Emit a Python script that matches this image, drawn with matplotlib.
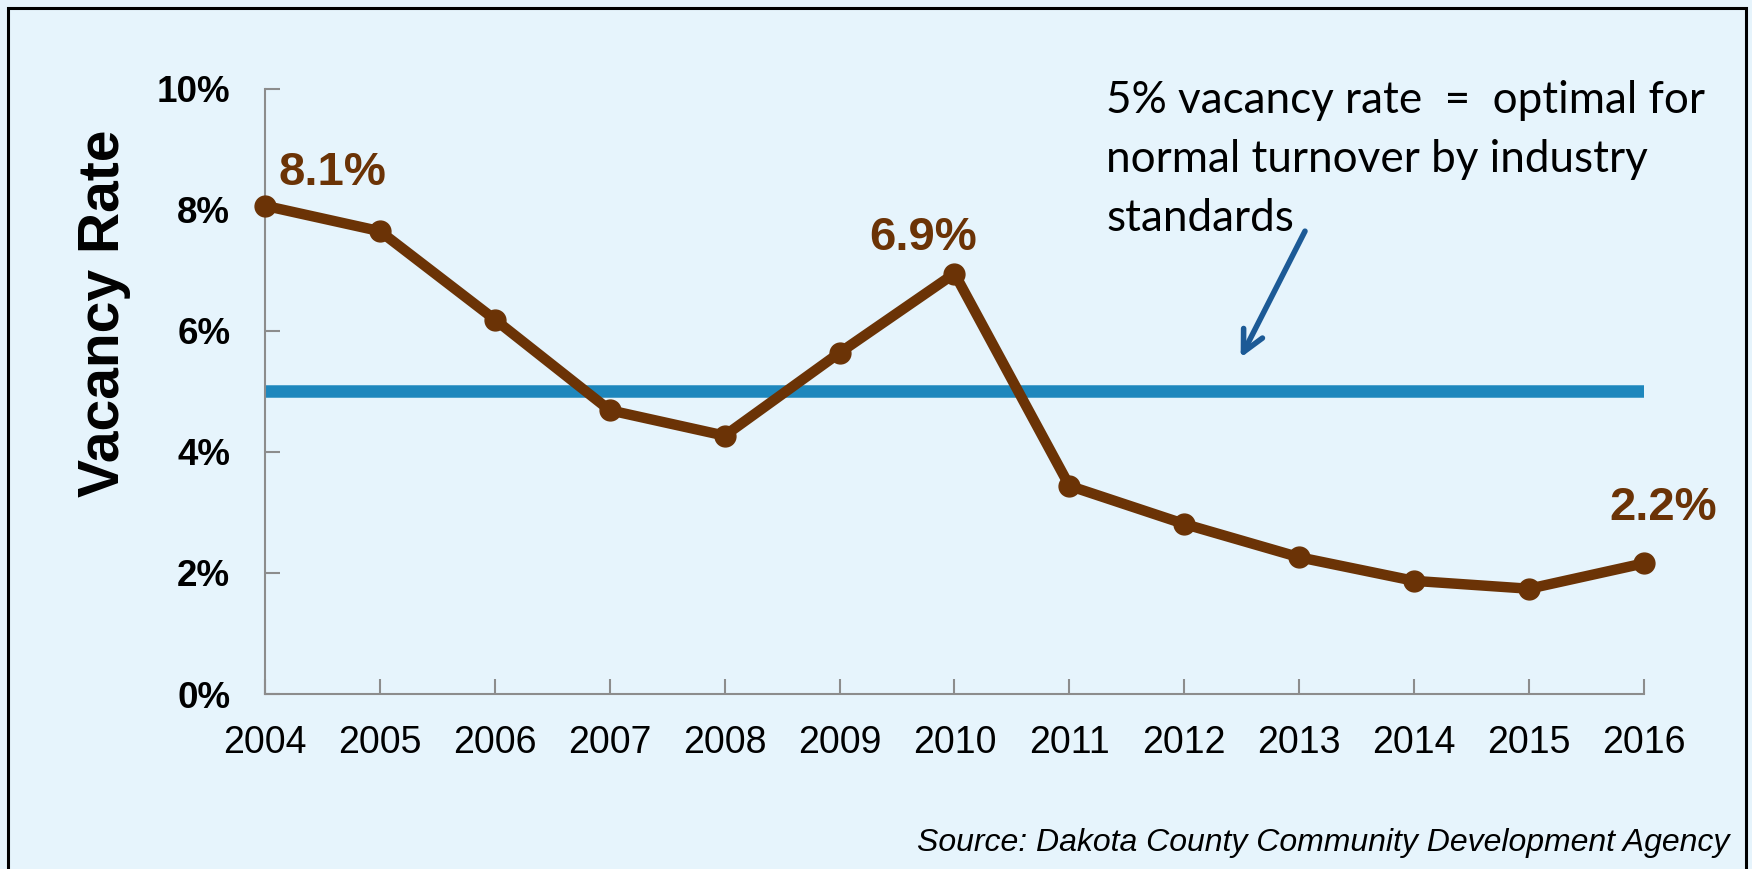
import matplotlib
matplotlib.use("Agg")
import matplotlib.pyplot as plt
from matplotlib.patches import Rectangle

# data
years = [2004, 2005, 2006, 2007, 2008, 2009, 2010, 2011, 2012, 2013, 2014, 2015, 2016]
vacancy = [8.07, 7.65, 6.19, 4.69, 4.27, 5.64, 6.95, 3.44, 2.81, 2.26, 1.87, 1.74, 2.16]
optimal_rate = 5.0
labelled_years = [2004, 2010, 2016]
labelled_text = ["8.1%", "6.9%", "2.2%"]
y_ticks = [0, 2, 4, 6, 8, 10]
y_tick_labels = ["0%", "2%", "4%", "6%", "8%", "10%"]

bg = "#E6F4FC"
brown = "#6B3306"
blue = "#1E87BD"
arrow_blue = "#1C5A96"
axis_grey = "#8C8C8C"

fig = plt.figure(figsize=(17.52, 8.69), dpi=100)
fig.patch.set_facecolor(bg)

# outer black frame (open at the bottom edge)
fig.patches.append(Rectangle((8 / 1752, -0.05), (1746 - 8) / 1752, 1 - 8 / 869 + 0.05,
                             transform=fig.transFigure, fill=False,
                             edgecolor="black", linewidth=2.2))

ax = fig.add_axes([265 / 1752, 1 - 694 / 869, (1644 - 265) / 1752, (694 - 89) / 869])
ax.set_facecolor(bg)

# 5% reference line
ax.plot([years[0], years[-1]], [optimal_rate, optimal_rate], color=blue,
        linewidth=9, solid_capstyle="butt", zorder=2)

# vacancy rate
ax.plot(years, vacancy, color=brown, linewidth=7.5, marker="o", markersize=15,
        clip_on=False, zorder=3)

# label offsets (in data units) from the point
label_offsets = {2004: (0.59, 0.54), 2010: (-0.27, 0.59), 2016: (0.17, 0.91)}
for yr, txt in zip(labelled_years, labelled_text):
    v = vacancy[years.index(yr)]
    dx, dy = label_offsets[yr]
    ax.text(yr + dx, v + dy, txt, color=brown, fontsize=34, fontweight="bold",
            family="Liberation Sans", ha="center", va="center", clip_on=False)

ax.set_xlim(years[0], years[-1])
ax.set_ylim(0, 10)
ax.set_xticks(years)
ax.set_xticklabels([str(y) for y in years], fontsize=27, family="Liberation Sans")
ax.set_yticks(y_ticks)
ax.set_yticklabels(y_tick_labels, fontsize=26.5, fontweight="bold", family="Liberation Sans")
ax.tick_params(axis="x", direction="in", length=11, width=1.5, color=axis_grey, pad=22)
ax.tick_params(axis="y", direction="in", length=11, width=1.5, color=axis_grey, pad=25)
for s in ["top", "right"]:
    ax.spines[s].set_visible(False)
for s in ["left", "bottom"]:
    ax.spines[s].set_color(axis_grey)
    ax.spines[s].set_linewidth(1.5)

fig.text(104 / 1752, 1 - 313 / 869, "Vacancy Rate", rotation=90, fontsize=41,
         fontweight="bold", family="Liberation Sans", ha="center", va="center")

# annotation
fig.text(1106 / 1752, 1 - 80 / 869,
         "5% vacancy rate  =  optimal for\nnormal turnover by industry\nstandards",
         fontsize=31.7, family="Lato", ha="left", va="top", linespacing=1.55)
ax.annotate("", xy=(2012.49, 5.56), xytext=(2013.05, 7.65),
            arrowprops=dict(arrowstyle="->", color=arrow_blue, lw=4,
                            mutation_scale=38, shrinkA=0, shrinkB=0))

fig.text(1729 / 1752, 1 - 843 / 869, "Source: Dakota County Community Development Agency",
         fontsize=23, style="italic", family="Liberation Sans",
         ha="right", va="center")

fig.savefig("out.png", dpi=100, facecolor=bg)
